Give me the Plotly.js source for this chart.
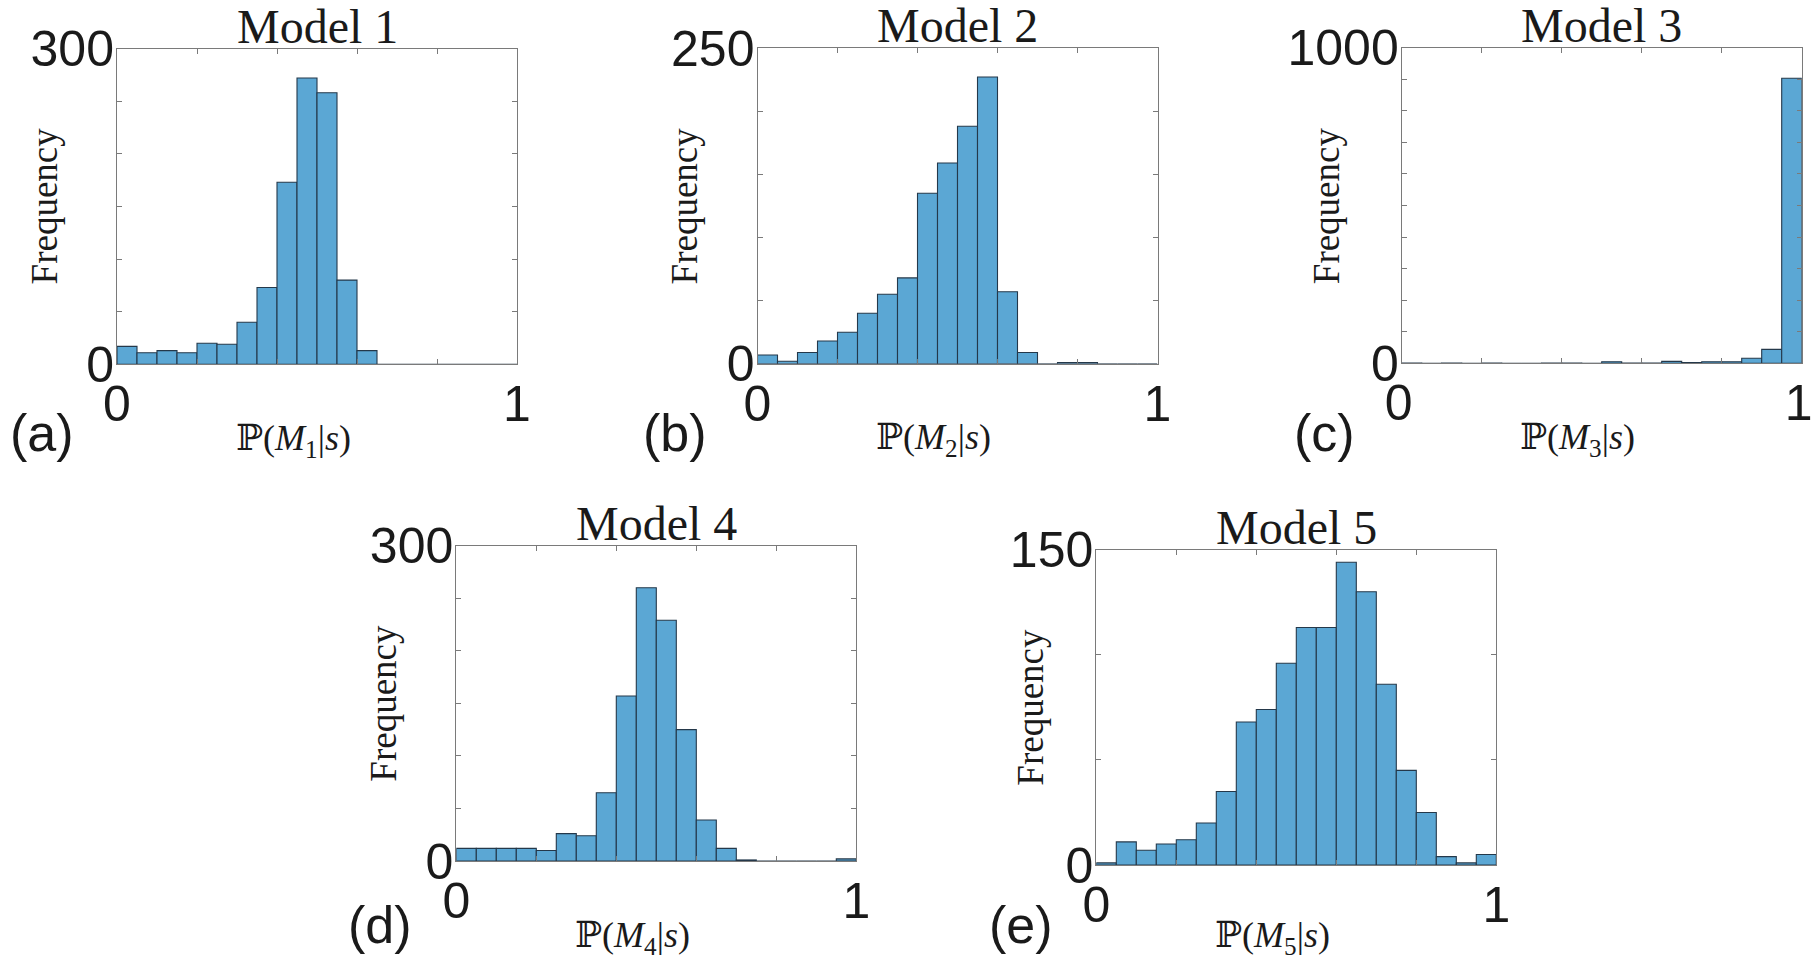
<!DOCTYPE html>
<html>
<head>
<meta charset="utf-8">
<script src="https://cdn.plot.ly/plotly-3.0.1.min.js"></script>
<style>html,body{margin:0;padding:0;background:#fff;}#chart{width:1814px;height:961px;}</style>
</head>
<body>
<div id="chart"></div>
<script>
// ---- data ----
const binCenters = [0.025,0.075,0.125,0.175,0.225,0.275,0.325,0.375,0.425,0.475,0.525,0.575,0.625,0.675,0.725,0.775,0.825,0.875,0.925,0.975];
const model1 = [17,11,13,11,20,19,40,73,173,272,258,80,13,0,0,0,0,0,0,0];
const model2 = [7,2,9,18,25,40,55,68,135,159,188,227,57,9,0,1,1,0,0,0];
const model3 = [1,0,1,0,1,0,0,1,1,0,5,1,1,6,2,5,5,16,44,903];
const model4 = [12,12,12,12,10,26,24,65,157,260,229,125,39,12,1,0,0,0,0,2];
const model5 = [1,11,7,10,12,20,35,68,74,96,113,113,144,130,86,45,25,4,1,5];
const panelTitles = ["Model 1","Model 2","Model 3","Model 4","Model 5"];
const panelLetters = ["(a)","(b)","(c)","(d)","(e)"];
const yMax = [300,250,1000,300,150];
const yMinorTicks = [
  [50,100,150,200,250],
  [50,100,150,200],
  [100,200,300,400,500,600,700,800,900],
  [50,100,150,200,250],
  [50,100]
];
const xTickVals = [0,1];
const xTickText = ["0","1"];
const xMinorTicks = [0.2,0.4,0.6,0.8];
const xTitles = ["ℙ(<i>M</i><sub>1</sub>|<i>s</i>)","ℙ(<i>M</i><sub>2</sub>|<i>s</i>)","ℙ(<i>M</i><sub>3</sub>|<i>s</i>)","ℙ(<i>M</i><sub>4</sub>|<i>s</i>)","ℙ(<i>M</i><sub>5</sub>|<i>s</i>)"];
const series = [model1, model2, model3, model4, model5];

// ---- layout geometry (pixels) ----
const W = 1814, H = 961;
const boxes = [ // left, top, width, height
  [117, 48.5, 400, 315.8],
  [757.5, 48, 400, 315.8],
  [1401.7, 47.7, 400, 315.6],
  [456.3, 545.7, 400, 315.3],
  [1096.3, 549.7, 400, 315.3]
];
const letterPos = [[41.6,433],[674.5,433],[1324.8,433],[380,925],[1021,925]];
const freqShift = [-73,-73,-75,-73,-66];
const xLabelShift = [0,0,-3,0,0];
const xTitleShift = [-76,-76,-76,-76,-72];

const barColor = '#5ba7d4';
const edgeColor = '#24384a';
const axisColor = '#7a7a7a';
const txtColor = '#1a1a1a';
const serif = '"Liberation Serif", "Times New Roman", "DejaVu Serif", serif';
const sans = '"Liberation Sans", Arial, Helvetica, sans-serif';

const data = [];
const layout = {
  width: W, height: H,
  margin: {l:0, r:0, t:0, b:0},
  paper_bgcolor: '#fff', plot_bgcolor: '#fff',
  showlegend: false, bargap: 0,
  annotations: []
};

series.forEach((vals, i) => {
  const n = i + 1;
  const xa = 'xaxis' + (n === 1 ? '' : n);
  const ya = 'yaxis' + (n === 1 ? '' : n);
  const xr = 'x' + (n === 1 ? '' : n);
  const yr = 'y' + (n === 1 ? '' : n);
  const [l, t, w, h] = boxes[i];
  data.push({
    type: 'bar', x: binCenters, y: vals, width: 0.05,
    xaxis: xr, yaxis: yr,
    marker: {color: barColor, line: {color: edgeColor, width: 1.1}},
    hoverinfo: 'skip'
  });
  layout[xa] = {
    domain: [l / W, (l + w) / W], anchor: yr,
    range: [0, 1], fixedrange: true,
    showline: true, linecolor: axisColor, linewidth: 1, mirror: 'ticks',
    ticks: 'inside', ticklen: 5, tickcolor: axisColor, tickwidth: 1,
    tickvals: xTickVals, ticktext: xTickText,
    minor: {tickvals: xMinorTicks, ticks: 'inside', ticklen: 5, tickcolor: axisColor, tickwidth: 1, showgrid: false},
    tickfont: {family: sans, size: 50, color: txtColor},
    ticklabelstandoff: -4, ticklabelshift: xLabelShift[i], ticklabeloverflow: 'allow',
    showgrid: false, zeroline: false
  };
  layout[ya] = {
    domain: [1 - (t + h) / H, 1 - t / H], anchor: xr,
    range: [0, yMax[i]], fixedrange: true,
    showline: true, linecolor: axisColor, linewidth: 1, mirror: 'ticks',
    ticks: 'inside', ticklen: 5, tickcolor: axisColor, tickwidth: 1,
    tickvals: [0, yMax[i]], ticktext: ['0', String(yMax[i])],
    minor: {tickvals: yMinorTicks[i], ticks: 'inside', ticklen: 5, tickcolor: axisColor, tickwidth: 1, showgrid: false},
    tickfont: {family: sans, size: 50, color: txtColor},
    ticklabelstandoff: -8, ticklabeloverflow: 'allow',
    showgrid: false, zeroline: false
  };
  // title
  layout.annotations.push({
    text: panelTitles[i], xref: xr + ' domain', yref: yr + ' domain',
    x: 0.5, y: 1, xanchor: 'center', yanchor: 'bottom', yshift: -6,
    showarrow: false, font: {family: serif, size: 48, color: txtColor}
  });
  // y title
  layout.annotations.push({
    text: 'Frequency', xref: xr + ' domain', yref: yr + ' domain',
    x: 0, y: 0.5, xanchor: 'center', yanchor: 'middle', xshift: freqShift[i],
    textangle: -90, showarrow: false, font: {family: serif, size: 37, color: txtColor}
  });
  // x title
  layout.annotations.push({
    text: xTitles[i], xref: xr + ' domain', yref: yr + ' domain',
    x: 0.5, y: 0, xanchor: 'center', yanchor: 'middle', xshift: -24, yshift: xTitleShift[i],
    showarrow: false, font: {family: serif, size: 36, color: txtColor}
  });
  // panel letter
  layout.annotations.push({
    text: panelLetters[i], xref: 'paper', yref: 'paper',
    x: letterPos[i][0] / W, y: 1 - letterPos[i][1] / H,
    xanchor: 'center', yanchor: 'middle',
    showarrow: false, font: {family: sans, size: 52, color: txtColor}
  });
});

Plotly.newPlot('chart', data, layout, {displayModeBar: false, staticPlot: true});
</script>
</body>
</html>
